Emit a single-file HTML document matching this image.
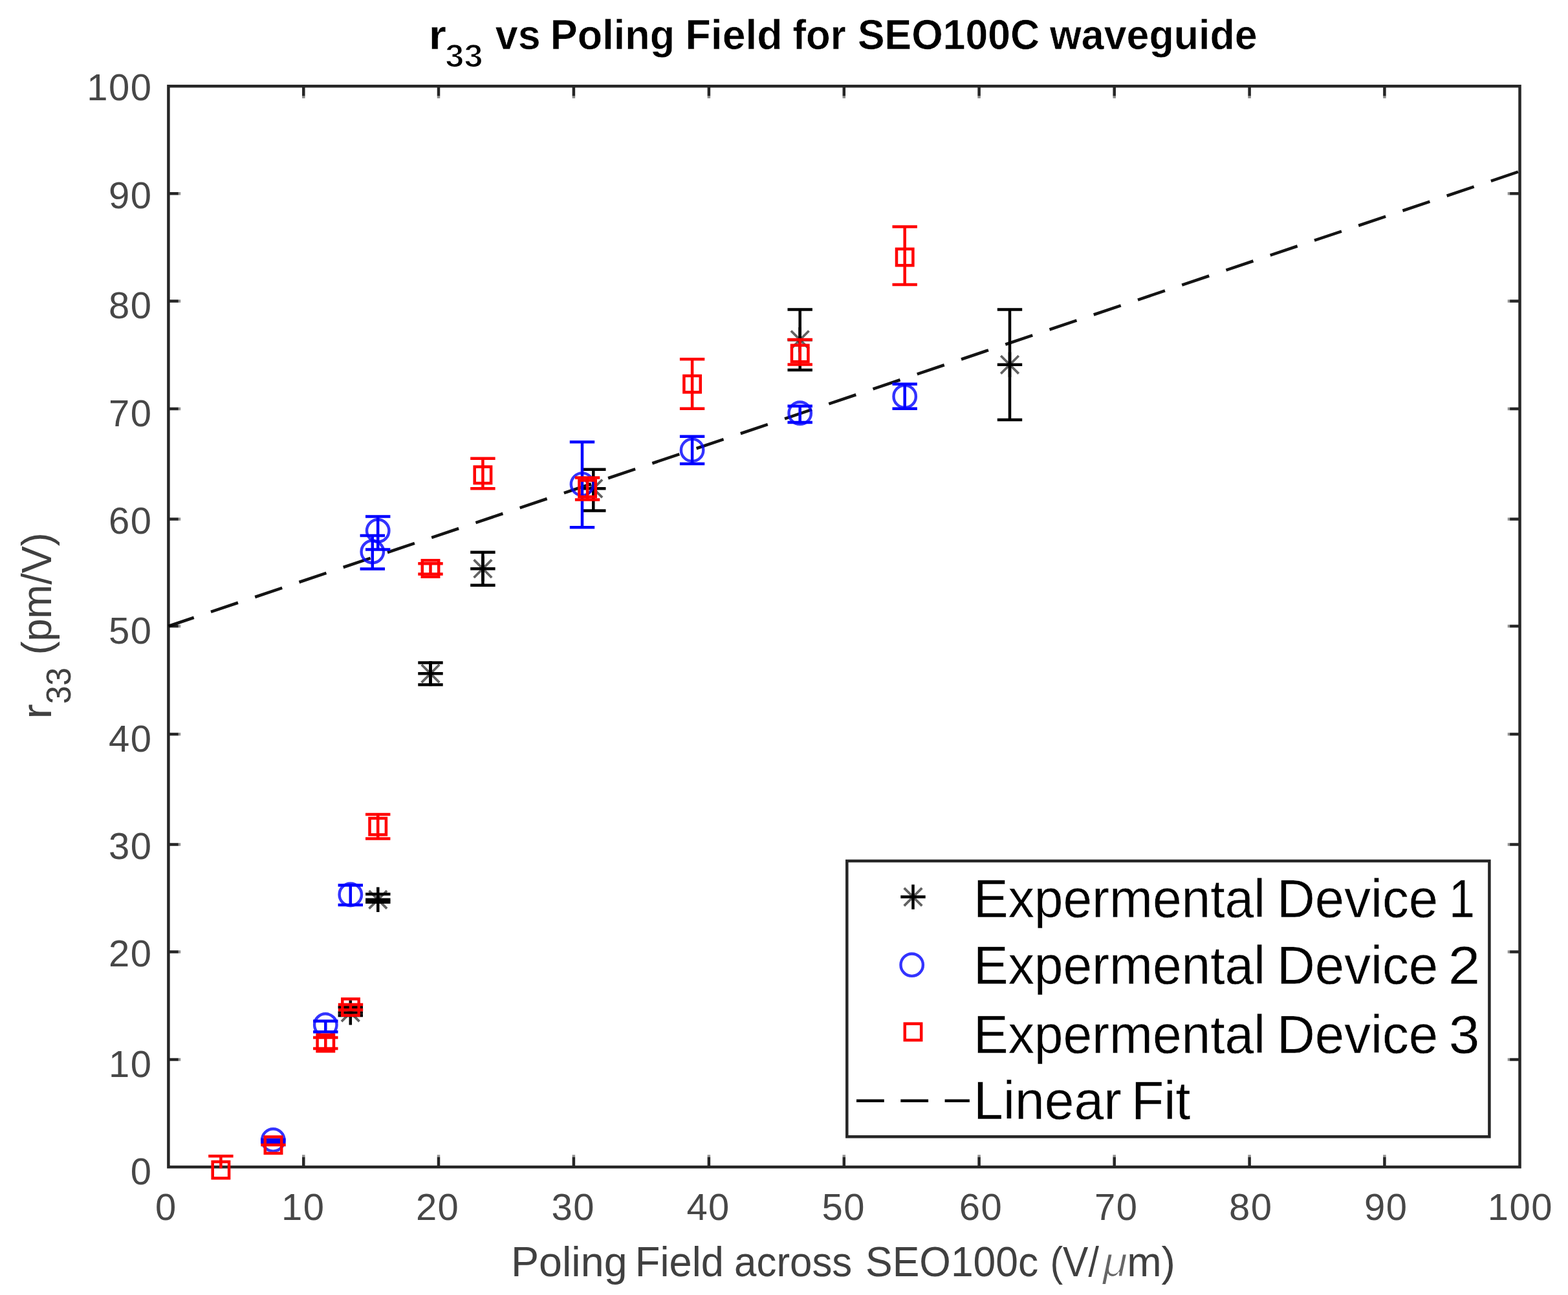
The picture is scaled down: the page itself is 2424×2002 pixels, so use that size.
<!DOCTYPE html>
<html lang="en">
<head>
<meta charset="utf-8">
<title>r33 vs Poling Field for SEO100C waveguide</title>
<style>html,body{margin:0;padding:0;background:#fff;}body{width:2424px;height:2002px;overflow:hidden;}svg{display:block;}</style>
</head>
<body>
<svg width="2424" height="2002" viewBox="0 0 2424 2002" font-family="'Liberation Sans', Arial, Helvetica, sans-serif">
<rect width="2424" height="2002" fill="#fff"/>
<g id="axes" stroke="#262626" stroke-width="4.5" fill="none">
<rect x="260.4" y="133.2" width="2089.1" height="1670.9"/>
<path d="M469.3 1804.1v-15.4M469.3 133.2v15.4M260.4 1638.0h15.4M2349.5 1638.0h-15.4M678.0 1804.1v-15.4M678.0 133.2v15.4M260.4 1471.6h15.4M2349.5 1471.6h-15.4M886.9 1804.1v-15.4M886.9 133.2v15.4M260.4 1305.5h15.4M2349.5 1305.5h-15.4M1095.9 1804.1v-15.4M1095.9 133.2v15.4M260.4 1135.0h15.4M2349.5 1135.0h-15.4M1304.8 1804.1v-15.4M1304.8 133.2v15.4M260.4 968.0h15.4M2349.5 968.0h-15.4M1513.6 1804.1v-15.4M1513.6 133.2v15.4M260.4 802.5h15.4M2349.5 802.5h-15.4M1722.7 1804.1v-15.4M1722.7 133.2v15.4M260.4 632.0h15.4M2349.5 632.0h-15.4M1931.6 1804.1v-15.4M1931.6 133.2v15.4M260.4 465.5h15.4M2349.5 465.5h-15.4M2140.4 1804.1v-15.4M2140.4 133.2v15.4M260.4 299.2h15.4M2349.5 299.2h-15.4"/>
<path d="M469.3 1788.7v-3.4M469.3 148.6v3.4M275.8 1638.0h3.4M2334.1 1638.0h-3.4M678.0 1788.7v-3.4M678.0 148.6v3.4M275.8 1471.6h3.4M2334.1 1471.6h-3.4M886.9 1788.7v-3.4M886.9 148.6v3.4M275.8 1305.5h3.4M2334.1 1305.5h-3.4M1095.9 1788.7v-3.4M1095.9 148.6v3.4M275.8 1135.0h3.4M2334.1 1135.0h-3.4M1304.8 1788.7v-3.4M1304.8 148.6v3.4M275.8 968.0h3.4M2334.1 968.0h-3.4M1513.6 1788.7v-3.4M1513.6 148.6v3.4M275.8 802.5h3.4M2334.1 802.5h-3.4M1722.7 1788.7v-3.4M1722.7 148.6v3.4M275.8 632.0h3.4M2334.1 632.0h-3.4M1931.6 1788.7v-3.4M1931.6 148.6v3.4M275.8 465.5h3.4M2334.1 465.5h-3.4M2140.4 1788.7v-3.4M2140.4 148.6v3.4M275.8 299.2h3.4M2334.1 299.2h-3.4" stroke-opacity="0.5"/>
</g>
<line id="fit" x1="260.4" y1="968.0" x2="2349.5" y2="264.8" stroke="#000" stroke-opacity="0.92" stroke-width="4.6" stroke-dasharray="44.3 27.7" stroke-dashoffset="2.8"/>
<g id="device1">
<path d="M541.8 1557.1V1569.9M522.6 1557.1H561.0M522.6 1569.9H561.0" stroke="#000" stroke-width="4.5" fill="none"/>
<path d="M528.0 1551.6L555.6 1579.2M528.0 1579.2L555.6 1551.6" stroke="#000" stroke-width="3.8" stroke-opacity="0.62" fill="none"/><path d="M522.6 1565.4H561.0M541.8 1546.2V1584.6" stroke="#000" stroke-width="4.5" fill="none"/>
<path d="M584.3 1382.3V1394.8M565.1 1382.3H603.5M565.1 1394.8H603.5" stroke="#000" stroke-width="4.5" fill="none"/>
<path d="M570.5 1377.0L598.1 1404.6M570.5 1404.6L598.1 1377.0" stroke="#000" stroke-width="3.8" stroke-opacity="0.62" fill="none"/><path d="M565.1 1390.8H603.5M584.3 1371.6V1410.0" stroke="#000" stroke-width="4.5" fill="none"/>
<path d="M665.5 1024.5V1058.4M646.3 1024.5H684.7M646.3 1058.4H684.7" stroke="#000" stroke-width="4.5" fill="none"/>
<path d="M651.7 1027.5L679.3 1055.1M651.7 1055.1L679.3 1027.5" stroke="#000" stroke-width="3.8" stroke-opacity="0.62" fill="none"/><path d="M646.3 1041.3H684.7M665.5 1022.1V1060.5" stroke="#000" stroke-width="4.5" fill="none"/>
<path d="M746.4 853.7V904.8M727.2 853.7H765.6M727.2 904.8H765.6" stroke="#000" stroke-width="4.5" fill="none"/>
<path d="M732.6 865.4L760.2 893.0M732.6 893.0L760.2 865.4" stroke="#000" stroke-width="3.8" stroke-opacity="0.62" fill="none"/><path d="M727.2 879.2H765.6M746.4 860.0V898.4" stroke="#000" stroke-width="4.5" fill="none"/>
<path d="M917.3 725.8V789.6M898.1 725.8H936.5M898.1 789.6H936.5" stroke="#000" stroke-width="4.5" fill="none"/>
<path d="M903.5 741.5L931.1 769.1M903.5 769.1L931.1 741.5" stroke="#000" stroke-width="3.8" stroke-opacity="0.62" fill="none"/><path d="M898.1 755.3H936.5M917.3 736.1V774.5" stroke="#000" stroke-width="4.5" fill="none"/>
<path d="M1236.7 478.4V572.1M1217.5 478.4H1255.9M1217.5 572.1H1255.9" stroke="#000" stroke-width="4.5" fill="none"/>
<path d="M1222.9 511.5L1250.5 539.1M1222.9 539.1L1250.5 511.5" stroke="#000" stroke-width="3.8" stroke-opacity="0.62" fill="none"/><path d="M1217.5 525.3H1255.9M1236.7 506.1V544.5" stroke="#000" stroke-width="4.5" fill="none"/>
<path d="M1561.0 478.4V649.1M1541.8 478.4H1580.2M1541.8 649.1H1580.2" stroke="#000" stroke-width="4.5" fill="none"/>
<path d="M1547.2 550.0L1574.8 577.6M1547.2 577.6L1574.8 550.0" stroke="#000" stroke-width="3.8" stroke-opacity="0.62" fill="none"/><path d="M1541.8 563.8H1580.2M1561.0 544.6V583.0" stroke="#000" stroke-width="4.5" fill="none"/>
</g>
<g id="device2">
<path d="M422.3 1762.0V1766.0M403.1 1762.0H441.5M403.1 1766.0H441.5" stroke="#0000ff" stroke-width="4.5" fill="none"/>
<circle cx="422.3" cy="1762.4" r="17.2" stroke="#0000ff" stroke-width="4.4" stroke-opacity="0.8" fill="none"/>
<path d="M503.3 1578.5V1595.2M484.1 1578.5H522.5M484.1 1595.2H522.5" stroke="#0000ff" stroke-width="4.5" fill="none"/>
<circle cx="503.3" cy="1584.5" r="17.2" stroke="#0000ff" stroke-width="4.4" stroke-opacity="0.8" fill="none"/>
<path d="M541.8 1368.4V1399.1M522.6 1368.4H561.0M522.6 1399.1H561.0" stroke="#0000ff" stroke-width="4.5" fill="none"/>
<circle cx="541.8" cy="1383.0" r="17.2" stroke="#0000ff" stroke-width="4.4" stroke-opacity="0.8" fill="none"/>
<path d="M575.8 828.1V879.4M556.6 828.1H595.0M556.6 879.4H595.0" stroke="#0000ff" stroke-width="4.5" fill="none"/>
<circle cx="575.8" cy="853.0" r="17.2" stroke="#0000ff" stroke-width="4.4" stroke-opacity="0.8" fill="none"/>
<path d="M584.2 798.4V849.4M565.0 798.4H603.4M565.0 849.4H603.4" stroke="#0000ff" stroke-width="4.5" fill="none"/>
<circle cx="584.2" cy="820.5" r="17.2" stroke="#0000ff" stroke-width="4.4" stroke-opacity="0.8" fill="none"/>
<path d="M900.0 683.2V815.2M880.8 683.2H919.2M880.8 815.2H919.2" stroke="#0000ff" stroke-width="4.5" fill="none"/>
<circle cx="900.0" cy="748.6" r="17.2" stroke="#0000ff" stroke-width="4.4" stroke-opacity="0.8" fill="none"/>
<path d="M1070.1 674.7V717.1M1050.9 674.7H1089.3M1050.9 717.1H1089.3" stroke="#0000ff" stroke-width="4.5" fill="none"/>
<circle cx="1070.1" cy="695.9" r="17.2" stroke="#0000ff" stroke-width="4.4" stroke-opacity="0.8" fill="none"/>
<path d="M1236.7 627.7V653.0M1217.5 627.7H1255.9M1217.5 653.0H1255.9" stroke="#0000ff" stroke-width="4.5" fill="none"/>
<circle cx="1236.7" cy="638.7" r="17.2" stroke="#0000ff" stroke-width="4.4" stroke-opacity="0.8" fill="none"/>
<path d="M1398.7 593.8V631.8M1379.5 593.8H1417.9M1379.5 631.8H1417.9" stroke="#0000ff" stroke-width="4.5" fill="none"/>
<circle cx="1398.7" cy="612.9" r="17.2" stroke="#0000ff" stroke-width="4.4" stroke-opacity="0.8" fill="none"/>
</g>
<g id="device3">
<path d="M341.4 1787.2V1806.2M322.2 1787.2H360.6" stroke="#ff0000" stroke-width="4.5" fill="none"/>
<rect x="328.7" y="1796.0" width="25.4" height="25.4" stroke="#ff0000" stroke-width="4.5" fill="none"/>
<path d="M422.5 1770.0V1770.0M403.3 1770.0H441.7M403.3 1770.0H441.7" stroke="#ff0000" stroke-width="4.5" fill="none"/>
<rect x="409.8" y="1757.5" width="25.4" height="25.4" stroke="#ff0000" stroke-width="4.5" fill="none"/>
<path d="M503.3 1603.9V1621.1M484.1 1603.9H522.5M484.1 1621.1H522.5" stroke="#ff0000" stroke-width="4.5" fill="none"/>
<rect x="490.6" y="1599.8" width="25.4" height="25.4" stroke="#ff0000" stroke-width="4.5" fill="none"/>
<path d="M542.0 1552.9V1561.3M522.8 1552.9H561.2M522.8 1561.3H561.2" stroke="#ff0000" stroke-width="4.5" fill="none"/>
<rect x="529.3" y="1544.3" width="25.4" height="25.4" stroke="#ff0000" stroke-width="4.5" fill="none"/>
<path d="M584.2 1259.0V1296.5M565.0 1259.0H603.4M565.0 1296.5H603.4" stroke="#ff0000" stroke-width="4.5" fill="none"/>
<rect x="571.5" y="1265.0" width="25.4" height="25.4" stroke="#ff0000" stroke-width="4.5" fill="none"/>
<path d="M665.5 871.3V887.4M646.3 871.3H684.7M646.3 887.4H684.7" stroke="#ff0000" stroke-width="4.5" fill="none"/>
<rect x="652.8" y="866.3" width="25.4" height="25.4" stroke="#ff0000" stroke-width="4.5" fill="none"/>
<path d="M746.4 708.8V755.3M727.2 708.8H765.6M727.2 755.3H765.6" stroke="#ff0000" stroke-width="4.5" fill="none"/>
<rect x="733.7" y="721.6" width="25.4" height="25.4" stroke="#ff0000" stroke-width="4.5" fill="none"/>
<path d="M908.1 738.5V772.4M888.9 738.5H927.3M888.9 772.4H927.3" stroke="#ff0000" stroke-width="4.5" fill="none"/>
<rect x="895.4" y="742.6" width="25.4" height="25.4" stroke="#ff0000" stroke-width="4.5" fill="none"/>
<path d="M1070.1 555.3V631.8M1050.9 555.3H1089.3M1050.9 631.8H1089.3" stroke="#ff0000" stroke-width="4.5" fill="none"/>
<rect x="1057.4" y="581.0" width="25.4" height="25.4" stroke="#ff0000" stroke-width="4.5" fill="none"/>
<path d="M1236.7 525.1V563.6M1217.5 525.1H1255.9M1217.5 563.6H1255.9" stroke="#ff0000" stroke-width="4.5" fill="none"/>
<rect x="1224.0" y="533.8" width="25.4" height="25.4" stroke="#ff0000" stroke-width="4.5" fill="none"/>
<path d="M1398.7 350.5V440.1M1379.5 350.5H1417.9M1379.5 440.1H1417.9" stroke="#ff0000" stroke-width="4.5" fill="none"/>
<rect x="1386.0" y="384.9" width="25.4" height="25.4" stroke="#ff0000" stroke-width="4.5" fill="none"/>
</g>
<g id="xticks" fill="#474747" font-size="58.0">
<text x="239.95" y="1886.30" letter-spacing="1.45">0</text>
<text x="435.12" y="1886.30" letter-spacing="1.45">10</text>
<text x="642.88" y="1886.30" letter-spacing="1.45">20</text>
<text x="852.53" y="1886.30" letter-spacing="1.45">30</text>
<text x="1061.39" y="1886.30" letter-spacing="1.45">40</text>
<text x="1270.47" y="1886.30" letter-spacing="1.45">50</text>
<text x="1482.68" y="1886.30" letter-spacing="1.45">60</text>
<text x="1691.95" y="1886.30" letter-spacing="1.45">70</text>
<text x="1900.08" y="1886.30" letter-spacing="1.45">80</text>
<text x="2109.09" y="1886.30" letter-spacing="1.45">90</text>
<text x="2299.77" y="1886.30" letter-spacing="1.45">100</text>
</g>
<g id="yticks" fill="#474747" font-size="58.0">
<text x="201.76" y="1830.90" letter-spacing="1.45">0</text>
<text x="168.06" y="1664.60" letter-spacing="1.45">10</text>
<text x="168.06" y="1493.90" letter-spacing="1.45">20</text>
<text x="168.06" y="1328.00" letter-spacing="1.45">30</text>
<text x="168.06" y="1161.70" letter-spacing="1.45">40</text>
<text x="168.06" y="995.20" letter-spacing="1.45">50</text>
<text x="168.06" y="825.10" letter-spacing="1.45">60</text>
<text x="168.06" y="658.60" letter-spacing="1.45">70</text>
<text x="168.06" y="492.00" letter-spacing="1.45">80</text>
<text x="168.06" y="321.50" letter-spacing="1.45">90</text>
<text x="134.36" y="155.40" letter-spacing="1.45">100</text>
</g>
<g id="xlabel" fill="#404040">
<text transform="translate(789.90 1972.90) scale(1.0345 1.0400)" font-size="62.50">Poling</text>
<text transform="translate(981.81 1972.90) scale(1.0126 1.0400)" font-size="62.50">Field</text>
<text transform="translate(1135.10 1972.90) scale(0.9895 1.0400)" font-size="62.50">across</text>
<text transform="translate(1337.99 1972.90) scale(0.9994 1.0400)" font-size="62.50">SEO100c</text>
<text transform="translate(1623.44 1972.90) scale(0.9447 1.0400)" font-size="62.50">(V/</text><text fill-opacity="0.8" stroke="#fff" stroke-width="1.2" transform="translate(1705.05 1972.90) scale(1.1024 1.0400)" font-size="62.50" font-style="italic">μ</text><text transform="translate(1742.17 1972.90) scale(1.0266 1.0400)" font-size="62.50">m)</text>
</g>
<g id="ylabel" fill="#404040">
<text transform="translate(79.20 1107.00) rotate(-90) translate(-4.58 0.00) scale(1.1092 1.0400)" font-size="62.50">r</text><text transform="translate(108.70 1086.30) rotate(-90) translate(-1.92 0.00) scale(0.9987 1.0496)" font-size="50.60">33</text>
<text transform="translate(79.20 1008.60) rotate(-90) translate(-3.91 0.00) scale(1.0103 1.0400)" font-size="62.50">(pm/V)</text>
</g>
<g id="title" fill="#000" stroke="#fff" stroke-width="0.5">
<text transform="translate(662.61 75.70) scale(1.1303 1.0400)" font-size="62.50" font-weight="bold">r</text><text stroke="#fff" stroke-width="1.6" transform="translate(688.35 104.30) scale(1.0340 0.9993)" font-size="50.60" font-weight="bold">33</text>
<text transform="translate(765.81 75.70) scale(1.0043 1.0400)" font-size="62.50" font-weight="bold">vs</text>
<text transform="translate(850.84 75.70) scale(1.0075 1.0400)" font-size="62.50" font-weight="bold">Poling</text>
<text transform="translate(1059.45 75.70) scale(1.0303 1.0400)" font-size="62.50" font-weight="bold">Field</text>
<text transform="translate(1225.45 75.70) scale(0.9868 1.0400)" font-size="62.50" font-weight="bold">for</text>
<text transform="translate(1325.95 75.70) scale(0.9988 1.0400)" font-size="62.50" font-weight="bold">SEO100C</text>
<text transform="translate(1622.99 75.70) scale(1.0034 1.0400)" font-size="62.50" font-weight="bold">waveguide</text>
</g>
<g id="legend">
<rect x="1309.3" y="1331.0" width="993.1" height="426.3" fill="#fff" stroke="#262626" stroke-width="4.5"/>
<path d="M1397.7 1372.8L1425.3 1400.4M1397.7 1400.4L1425.3 1372.8" stroke="#000" stroke-width="3.8" stroke-opacity="0.62" fill="none"/><path d="M1392.3 1386.6H1430.7M1411.5 1367.4V1405.8" stroke="#000" stroke-width="4.5" fill="none"/>
<circle cx="1409.7" cy="1491.7" r="17.2" stroke="#0000ff" stroke-width="4.4" stroke-opacity="0.8" fill="none"/>
<rect x="1398.8" y="1582.6" width="25.4" height="25.4" stroke="#ff0000" stroke-width="4.5" fill="none"/>
<path d="M1324 1701.7H1366.8M1392.3 1701.7H1435.1M1460.6 1701.7H1498.9" stroke="#000" stroke-width="4.6" fill="none"/>
<g fill="#000" stroke="#fff" stroke-width="0.4">
<text transform="translate(1505.11 1418.30) scale(1.0044 1.0350)" font-size="80.00">Expermental</text>
<text transform="translate(1974.02 1418.30) scale(1.0189 1.0350)" font-size="80.00">Device</text>
<text transform="translate(2240.03 1418.30) scale(0.9000 1.0350)" font-size="80.00">1</text>
<text transform="translate(1505.11 1520.80) scale(1.0044 1.0350)" font-size="80.00">Expermental</text>
<text transform="translate(1974.02 1520.80) scale(1.0189 1.0350)" font-size="80.00">Device</text>
<text transform="translate(2238.65 1520.80) scale(1.1129 1.0350)" font-size="80.00">2</text>
<text transform="translate(1505.11 1627.50) scale(1.0044 1.0350)" font-size="80.00">Expermental</text>
<text transform="translate(1974.02 1627.50) scale(1.0189 1.0350)" font-size="80.00">Device</text>
<text transform="translate(2239.85 1627.50) scale(1.0684 1.0350)" font-size="80.00">3</text>
<text transform="translate(1504.95 1729.80) scale(1.0286 1.0350)" font-size="80.00">Linear</text>
<text transform="translate(1748.94 1729.80) scale(1.0298 1.0350)" font-size="80.00">Fit</text>
</g></g>
</svg>
</body>
</html>
